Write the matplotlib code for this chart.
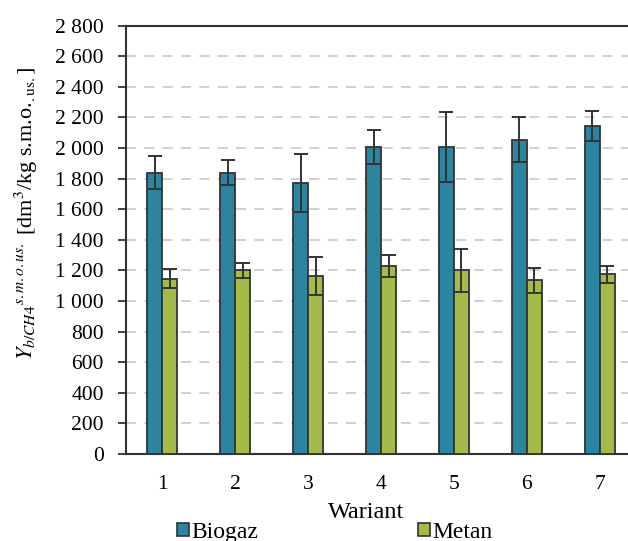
import matplotlib
matplotlib.use("Agg")
import matplotlib.pyplot as plt
import numpy as np
from matplotlib.ticker import FuncFormatter, MultipleLocator

categories = ["1", "2", "3", "4", "5", "6", "7"]
biogaz = [1840, 1840, 1770, 2005, 2005, 2055, 2145]
biogaz_err = [105, 80, 190, 110, 230, 148, 100]
metan = [1145, 1200, 1165, 1228, 1200, 1135, 1175]
metan_err = [62, 50, 125, 70, 140, 80, 55]

plt.rcParams['font.family'] = ['Liberation Serif', 'DejaVu Serif']
plt.rcParams['mathtext.fontset'] = 'stix'

fig = plt.figure(figsize=(6.28, 5.41), dpi=100)
ax = fig.add_axes([0.2006, 0.1608, 0.8124, 0.7917])

x = np.arange(len(categories))
w = 0.205
c_bio = '#2B84A0'
c_met = '#A3BC48'
edge = '#333333'
ax.bar(x - w/2, biogaz, w, color=c_bio, edgecolor=edge, linewidth=1.3, label='Biogaz', zorder=3)
ax.bar(x + w/2, metan, w, color=c_met, edgecolor=edge, linewidth=1.3, label='Metan', zorder=3)
ax.errorbar(x - w/2, biogaz, yerr=biogaz_err, fmt='none', ecolor='#333333', elinewidth=1.4, capsize=4.7, capthick=1.4, zorder=4)
ax.errorbar(x + w/2, metan, yerr=metan_err, fmt='none', ecolor='#333333', elinewidth=1.4, capsize=4.7, capthick=1.4, zorder=4)

ax.set_xlim(-0.5, len(categories) - 0.5)
ax.set_ylim(0, 2800)
ax.yaxis.set_major_locator(MultipleLocator(200))
ax.yaxis.set_major_formatter(FuncFormatter(lambda v, p: f"{int(v):,}".replace(",", " ")))
ax.set_xticks(x)
ax.set_xticklabels(categories)
ax.tick_params(axis='x', length=0, pad=15, labelsize=15.5)
ax.tick_params(axis='y', length=6, width=1.3, color='#333333', labelsize=15.5, pad=10, direction='out')
ax.grid(axis='y', color='#c8c8c8', linestyle=(0, (6, 5)), linewidth=1.2, zorder=0)
for s in ax.spines.values():
    s.set_color('#333333')
    s.set_linewidth(1.5)

ax.set_xlabel('Wariant', fontsize=17.5)
ax.xaxis.set_label_coords(0.47, -0.112)
ax.set_ylabel(r'$Y_{b/CH4}{}^{s.m.o.us.}$ [dm$^3$/kg s.m.o.$_{\mathrm{.us.}}$]', fontsize=16)
ax.yaxis.set_label_coords(-0.168, 0.563)

leg = fig.legend(loc='center left', bbox_to_anchor=(0.267, 0.016), ncol=2, frameon=False,
                 fontsize=17, handlelength=0.5, handleheight=0.5, handletextpad=0.12,
                 columnspacing=6.75, borderaxespad=0)
for h in leg.legend_handles:
    h.set_edgecolor('#333333')
    h.set_linewidth(1.2)

fig.savefig('out.png', dpi=100)
